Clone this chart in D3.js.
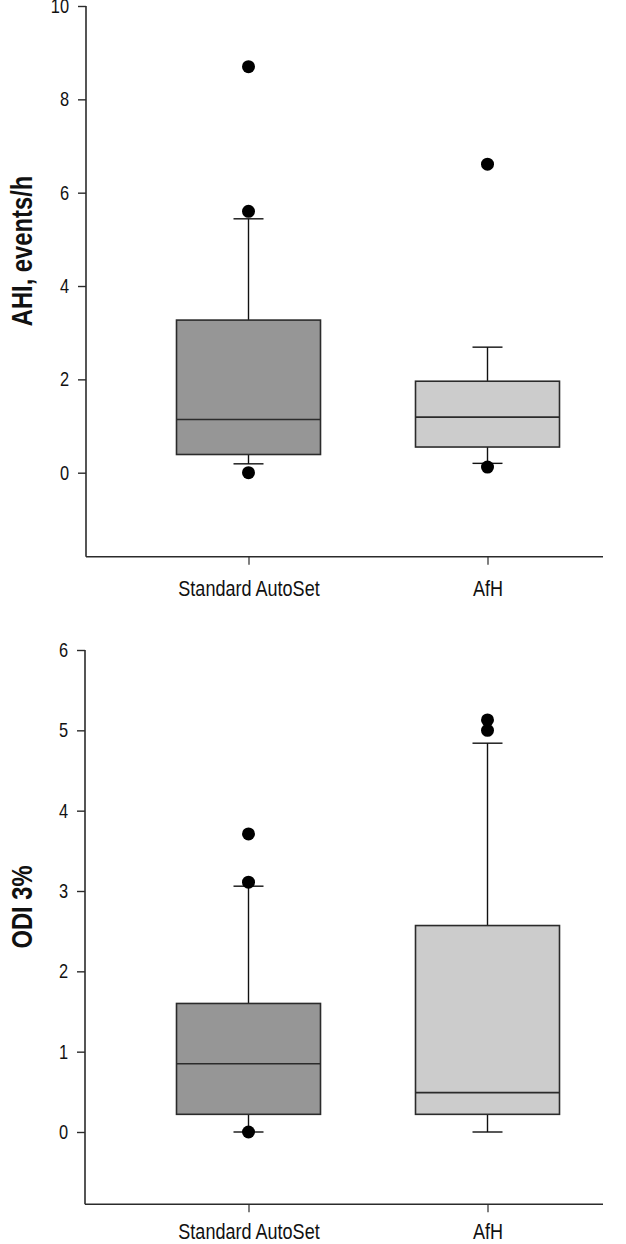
<!DOCTYPE html>
<html>
<head>
    <meta charset="utf-8"/>
    <title>AHI and ODI box plots</title>
    <script src="https://d3js.org/d3.v7.min.js"></script>
    <style>
        body { margin: 0; background: #ffffff; }
        #chart > svg { display: block; }
    </style>
</head>
<body>
<div id="chart"></div>
<script>
    // categories
    const categories = ['Standard AutoSet', 'AfH']

    // AHI, events/h
    const ahiLow = [0.19, 0.2]
    const ahiQ1 = [0.39, 0.55]
    const ahiMedian = [1.14, 1.19]
    const ahiQ3 = [3.27, 1.96]
    const ahiHigh = [5.44, 2.69]
    const ahiOutliers = [[8.7, 5.6, 0.0], [6.61, 0.12]]
    const ahiTicks = [0, 2, 4, 6, 8, 10]

    // ODI 3%
    const odiLow = [0.0, 0.0]
    const odiQ1 = [0.22, 0.22]
    const odiMedian = [0.85, 0.49]
    const odiQ3 = [1.6, 2.57]
    const odiHigh = [3.06, 4.84]
    const odiOutliers = [[3.71, 3.11, 0.0], [5.13, 5.0]]
    const odiTicks = [0, 1, 2, 3, 4, 5, 6]

    const WIDTH = 626
    const HEIGHT = 1244
    const FILLS = ['#969696', '#cccccc']
    const STROKE = '#2b2b2b'
    // Liberation Sans squeezed horizontally ~ Arial Narrow
    const FONT = '"Liberation Sans", Arial, sans-serif'
    const NARROW = 0.82

    const svg = d3.select('#chart')
        .append('svg')
        .attr('width', WIDTH)
        .attr('height', HEIGHT)

    function drawPanel(cfg) {
        const g = svg.append('g')

        const y = d3.scaleLinear()
            .domain(cfg.domain)
            .range([cfg.bottom, cfg.top])

        const x = d3.scalePoint()
            .domain(categories)
            .range([248.5, 487.5])

        // y axis
        const yAxis = g.append('g')
            .attr('transform', `translate(${cfg.left},0)`)
            .call(d3.axisLeft(y)
                .tickValues(cfg.ticks)
                .tickFormat(d3.format('d'))
                .tickSize(8)
                .tickPadding(9)
                .tickSizeOuter(0))
        yAxis.select('.domain').attr('stroke', STROKE).attr('stroke-width', 1.6)
            .attr('d', `M0,${y(cfg.ticks[cfg.ticks.length - 1])}V${cfg.bottom}`)
        yAxis.selectAll('.tick line').attr('stroke', STROKE).attr('stroke-width', 1.4)
        yAxis.selectAll('.tick text')
            .attr('fill', '#111')
            .attr('x', -17 / NARROW)
            .attr('transform', `scale(${NARROW},1)`)
            .style('font-family', FONT)
            .style('font-size', '20px')

        // x axis
        const xAxis = g.append('g')
            .attr('transform', `translate(0,${cfg.bottom})`)
            .call(d3.axisBottom(x).tickSize(8).tickPadding(cfg.labelPad).tickSizeOuter(0))
        xAxis.select('.domain').attr('stroke', STROKE).attr('stroke-width', 1.6)
            .attr('d', `M${cfg.left},0H${cfg.right}`)
        xAxis.selectAll('.tick line').attr('stroke', STROKE).attr('stroke-width', 1.2)
        xAxis.selectAll('.tick text')
            .attr('fill', '#111')
            .attr('transform', `scale(${NARROW},1)`)
            .style('font-family', FONT)
            .style('font-size', '22px')

        // y title
        g.append('text')
            .attr('transform', `translate(${cfg.titleX},${cfg.titleY}) rotate(-90) scale(${NARROW},1)`)
            .attr('text-anchor', 'middle')
            .attr('dominant-baseline', 'central')
            .style('font-family', FONT)
            .style('font-size', '29px')
            .style('font-weight', 'bold')
            .attr('fill', '#111')
            .text(cfg.title)

        const boxW = 144
        const capW = 30

        categories.forEach((cat, i) => {
            const cx = x(cat)
            const b = g.append('g')

            // whiskers
            b.append('line')
                .attr('x1', cx).attr('x2', cx)
                .attr('y1', y(cfg.q3[i])).attr('y2', y(cfg.high[i]))
                .attr('stroke', '#111').attr('stroke-width', 1.4)
            b.append('line')
                .attr('x1', cx).attr('x2', cx)
                .attr('y1', y(cfg.q1[i])).attr('y2', y(cfg.low[i]))
                .attr('stroke', '#111').attr('stroke-width', 1.4)
            b.append('line')
                .attr('x1', cx - capW / 2).attr('x2', cx + capW / 2)
                .attr('y1', y(cfg.high[i])).attr('y2', y(cfg.high[i]))
                .attr('stroke', '#111').attr('stroke-width', 1.4)
            b.append('line')
                .attr('x1', cx - capW / 2).attr('x2', cx + capW / 2)
                .attr('y1', y(cfg.low[i])).attr('y2', y(cfg.low[i]))
                .attr('stroke', '#111').attr('stroke-width', 1.4)

            // box
            b.append('rect')
                .attr('x', cx - boxW / 2)
                .attr('y', y(cfg.q3[i]))
                .attr('width', boxW)
                .attr('height', y(cfg.q1[i]) - y(cfg.q3[i]))
                .attr('fill', FILLS[i])
                .attr('stroke', STROKE)
                .attr('stroke-width', 1.6)

            // median
            b.append('line')
                .attr('x1', cx - boxW / 2).attr('x2', cx + boxW / 2)
                .attr('y1', y(cfg.median[i])).attr('y2', y(cfg.median[i]))
                .attr('stroke', STROKE).attr('stroke-width', 1.6)

            // outliers
            b.selectAll('circle')
                .data(cfg.outliers[i])
                .join('circle')
                .attr('cx', cx)
                .attr('cy', d => y(d))
                .attr('r', 6.5)
                .attr('fill', '#000')
        })
    }

    drawPanel({
        title: 'AHI, events/h',
        domain: [-1.8, 10],
        ticks: ahiTicks,
        top: 6,
        bottom: 556.7,
        left: 86,
        right: 603,
        labelPad: 16,
        titleX: 22,
        titleY: 251,
        low: ahiLow, q1: ahiQ1, median: ahiMedian, q3: ahiQ3, high: ahiHigh, outliers: ahiOutliers
    })

    drawPanel({
        title: 'ODI 3%',
        domain: [-0.9, 6],
        ticks: odiTicks,
        top: 650,
        bottom: 1204.3,
        left: 85,
        right: 603,
        labelPad: 11,
        titleX: 22,
        titleY: 907,
        low: odiLow, q1: odiQ1, median: odiMedian, q3: odiQ3, high: odiHigh, outliers: odiOutliers
    })
</script>
</body>
</html>
